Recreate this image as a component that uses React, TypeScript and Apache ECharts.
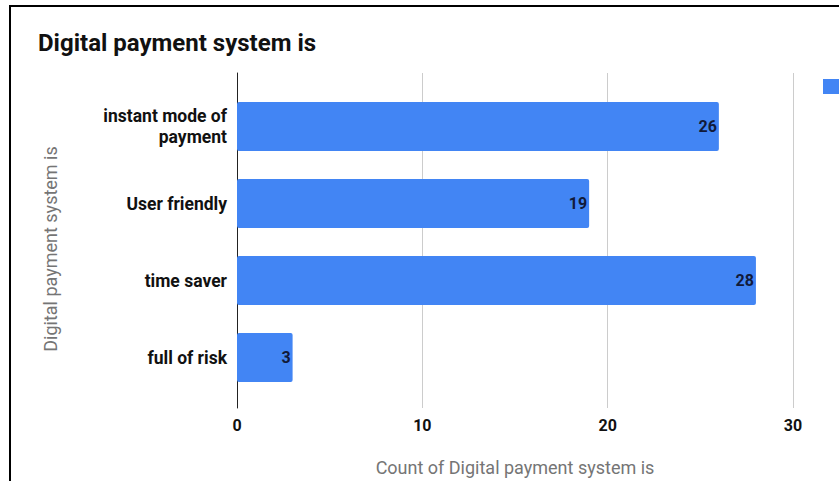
import React, { useEffect, useRef } from "react";
import * as echarts from "echarts";

const categories = ["instant mode of\npayment", "User friendly", "time saver", "full of risk"];
const counts = [26, 19, 28, 3];
const xTicks = [0, 10, 20, 30];
const chartTitle = "Digital payment system is";
const xAxisTitle = "Count of Digital payment system is";
const yAxisTitle = "Digital payment system is";
const seriesName = "Count of Digital payment system is";

export default function App() {
  const ref = useRef<HTMLDivElement>(null);
  useEffect(() => {
    if (!ref.current) return;
    const chart = echarts.init(ref.current, null, { renderer: "svg" });
    const font = "Roboto, 'Noto Sans', sans-serif";
    chart.setOption({
      animation: false,
      textStyle: { fontFamily: font },
      title: {
        text: chartTitle,
        left: 38,
        top: 31,
        padding: 0,
        textStyle: { fontSize: 24, fontWeight: "bold", color: "#111", fontFamily: font },
      },
      legend: {
        left: 823,
        top: 79,
        itemWidth: 16,
        itemHeight: 15,
        icon: "rect",
        padding: 0,
        data: [seriesName],
        formatter: () => "",
        textStyle: { fontSize: 14, color: "#222", fontFamily: font },
      },
      grid: [
        { left: 237, width: 556, top: 73, height: 335 },
        { left: 237, width: 556, top: 88, height: 308 },
      ],
      xAxis: [
        {
          gridIndex: 0,
          type: "value",
          min: xTicks[0],
          max: xTicks[xTicks.length - 1],
          interval: 10,
          axisLine: { show: false },
          axisTick: { show: false },
          splitLine: { show: true, lineStyle: { color: "#cccccc", width: 1 } },
          axisLabel: { fontSize: 16, fontWeight: "bold", color: "#111", margin: 9, fontFamily: font },
          name: xAxisTitle,
          nameLocation: "middle",
          nameGap: 50,
          nameTextStyle: { fontSize: 18, color: "#757575", fontFamily: font },
        },
        {
          gridIndex: 1,
          type: "value",
          min: xTicks[0],
          max: xTicks[xTicks.length - 1],
          show: false,
        },
      ],
      yAxis: [
        {
          gridIndex: 0,
          type: "value",
          axisLine: { show: true, onZero: false, lineStyle: { color: "#222", width: 1 } },
          axisTick: { show: false },
          axisLabel: { show: false },
          splitLine: { show: false },
        },
        {
          gridIndex: 1,
          type: "category",
          inverse: true,
          data: categories,
          axisLine: { show: false },
          axisTick: { show: false },
          splitLine: { show: false },
          axisLabel: {
            fontSize: 17.5,
            fontWeight: "bold",
            color: "#111",
            margin: 10,
            lineHeight: 21,
            align: "right",
            fontFamily: font,
          },
        },
      ],
      graphic: [
        {
          type: "text",
          x: 50,
          y: 249,
          rotation: Math.PI / 2,
          style: {
            text: yAxisTitle,
            fontSize: 18,
            fill: "#757575",
            fontFamily: font,
            align: "center",
            verticalAlign: "middle",
          },
        },
      ],
      series: [
        {
          name: seriesName,
          type: "bar",
          xAxisIndex: 1,
          yAxisIndex: 1,
          data: counts,
          barWidth: 49,
          itemStyle: { color: "#4285f4", borderRadius: 2 },
          label: {
            show: true,
            position: "insideRight",
            distance: 2,
            fontSize: 16,
            fontWeight: "bold",
            color: "#111a3a",
            fontFamily: font,
          },
        },
      ],
    });
    return () => chart.dispose();
  }, []);
  return (
    <div style={{ position: "fixed", left: 0, top: 0, width: 839, height: 481, overflow: "hidden", background: "#fff" }}>
      <div
        style={{
          position: "absolute",
          left: 9,
          top: 5,
          width: 900,
          height: 600,
          borderLeft: "2px solid #000",
          borderTop: "2px solid #000",
        }}
      />
      <div ref={ref} style={{ position: "absolute", left: 0, top: 0, width: 839, height: 481 }} />
    </div>
  );
}
